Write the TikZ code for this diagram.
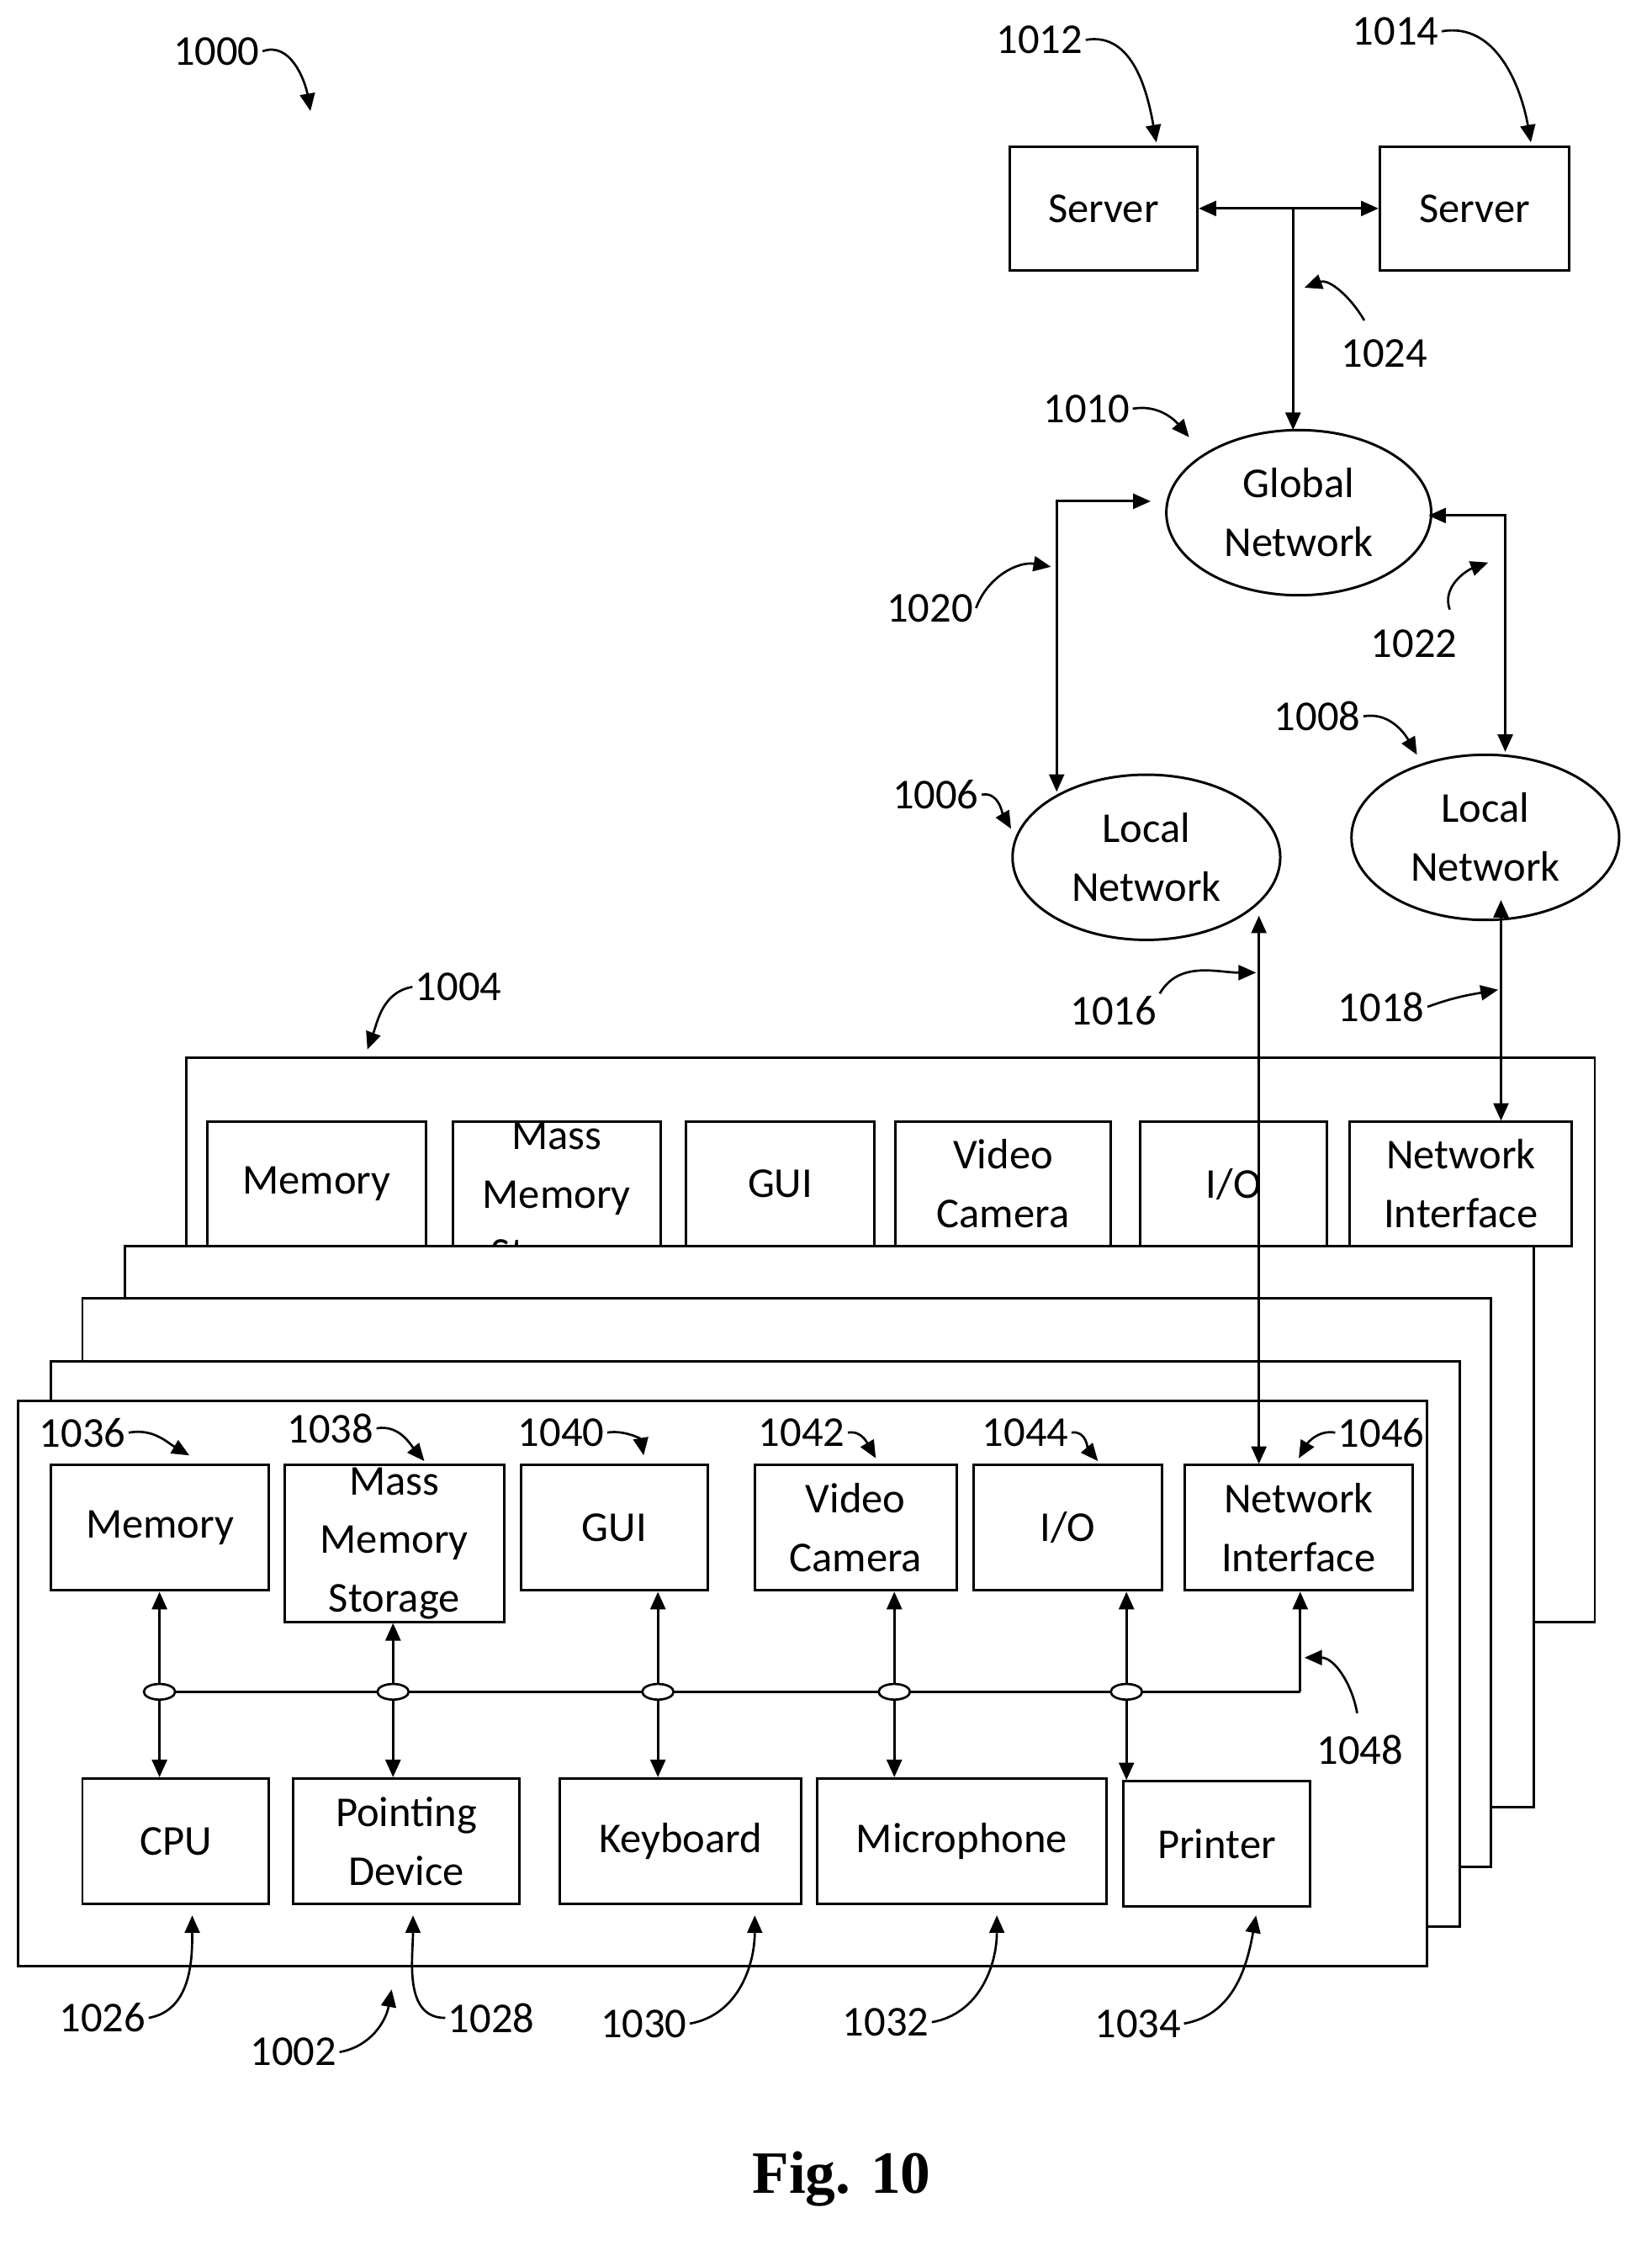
\documentclass[tikz,border=0pt]{standalone}
\usepackage{fontspec}
\setmainfont{Carlito}
\newfontfamily\figfont{Liberation Serif}
\usetikzlibrary{arrows.meta,shapes.geometric}
\begin{document}
\begin{tikzpicture}[x=0.02cm,y=-0.02cm,
  every node/.style={font=\fontsize{17}{23.5}\selectfont},
  bx/.style={draw,line width=1pt,fill=white,align=center,inner sep=0pt},
  el/.style={draw,line width=1pt,ellipse,align=center,fill=white},
  con/.style={line width=1pt,{Triangle[length=7pt,width=6pt]}-{Triangle[length=7pt,width=6pt]}},
  lbl/.style={line width=0.9pt,-{Triangle[length=7pt,width=6pt]}},
  num/.style={font=\fontsize{17}{20}\selectfont,inner sep=1pt}]
\useasboundingbox (0,0) rectangle (1160,1580);
\def\B#1#2#3#4#5#6{\node[bx,minimum width={(#4-#2)*0.02cm},minimum height={(#5-#3)*0.02cm},anchor=north west] (#1) at (#2,#3) {#6};}
% servers
\B{s1}{708}{102}{840}{189}{Server}
\B{s2}{968}{102}{1101}{189}{Server}
\node[el,minimum width=186*0.02cm,minimum height=116*0.02cm] (gn) at (912,360) {Global\\Network};
\node[el,minimum width=188*0.02cm,minimum height=116*0.02cm] (ln1) at (805,602) {Local\\Network};
\node[el,minimum width=188*0.02cm,minimum height=116*0.02cm] (ln2) at (1043,588) {Local\\Network};
\draw[con] (s1.east) -- (s2.west);
\coordinate (j) at (908,146);
\draw[lbl,line width=1pt] (j) -- (908,302);
\draw[con] (808,352) -- (742,352) -- (742,556);
\draw[con] (1003,362) -- (1057,362) -- (1057,528);
% stacked boxes
\B{p1}{130}{742}{1119}{1138}{}
\B{bm}{145}{787}{298}{874}{Memory}
\B{bmm}{317}{787}{463}{874}{Mass\\Memory\\Storage}
\B{bg}{481}{787}{613}{874}{GUI}
\B{bv}{628}{787}{779}{874}{Video\\Camera}
\B{bi}{800}{787}{931}{874}{I/O}
\B{bn}{947}{787}{1103}{874}{Network\\Interface}
\B{p2}{87}{874}{1076}{1268}{}
\B{p3}{57}{911}{1046}{1310}{}
\B{p4}{35}{955}{1024}{1352}{}
\B{p5}{12}{983}{1001}{1380}{}
% front row
\B{fm}{35}{1028}{188}{1116}{Memory}
\B{fmm}{199}{1028}{353}{1138}{Mass\\Memory\\Storage}
\B{fg}{365}{1028}{496}{1116}{GUI}
\B{fv}{529}{1028}{671}{1116}{Video\\Camera}
\B{fi}{683}{1028}{815}{1116}{I/O}
\B{fn}{831}{1028}{991}{1116}{Network\\Interface}
\B{cpu}{57}{1248}{188}{1336}{CPU}
\B{pd}{205}{1248}{364}{1336}{Pointing\\Device}
\B{kb}{392}{1248}{562}{1336}{Keyboard}
\B{mic}{573}{1248}{776}{1336}{Microphone}
\B{pr}{788}{1250}{919}{1338}{Printer}
% network links
\draw[con] (884,643) -- (884,1028);
\draw[con] (1054,632) -- (bn.north -| 1054,0);
% bus
\draw[line width=1pt] (112,1188) -- (913,1188);
\draw[lbl,line width=1pt] (913,1188) -- (fn.south -| 913,0);
\foreach \x/\t/\b in {112/fm/cpu,276/fmm/pd,462/fg/kb,628/fv/mic,791/fi/pr}{
  \draw[con] (\t.south -| \x,0) -- (\b.north -| \x,0);
  \node[draw,line width=0.9pt,ellipse,fill=white,minimum width=22*0.02cm,minimum height=11*0.02cm,inner sep=0pt] at (\x,1188) {};}
% labels
\node[num] (l1000) at (152,36) {1000}; \draw[lbl] (l1000.east) to[out=20,in=100] (218,78);
\node[num] (l1012) at (730,28) {1012}; \draw[lbl] (l1012.east) to[out=10,in=100] (812,100);
\node[num] (l1014) at (980,22) {1014}; \draw[lbl] (l1014.east) to[out=10,in=100] (1075,100);
\node[num] (l1024) at (972,248) {1024}; \draw[lbl] (958,225) to[out=120,in=20] (916,202);
\node[num] (l1010) at (763,287) {1010}; \draw[lbl] (l1010.east) to[out=10,in=130] (835,307);
\node[num] (l1020) at (653,427) {1020}; \draw[lbl] (l1020.east) to[out=70,in=170] (738,398);
\node[num] (l1022) at (993,452) {1022}; \draw[lbl] (1018,428) to[out=110,in=200] (1045,395);
\node[num] (l1008) at (925,503) {1008}; \draw[lbl] (l1008.east) to[out=10,in=120] (995,530);
\node[num] (l1006) at (657,558) {1006}; \draw[lbl] (l1006.east) to[out=10,in=120] (710,582);
\node[num] (l1016) at (782,710) {1016}; \draw[lbl] (l1016.north east) to[out=60,in=180] (882,683);
\node[num] (l1018) at (970,707) {1018}; \draw[lbl] (l1018.east) to[out=20,in=190] (1052,695);
\node[num] (l1004) at (322,693) {1004}; \draw[lbl] (l1004.west) to[out=190,in=70] (258,737);
\node[num] (l1036) at (58,1006) {1036}; \draw[lbl] (l1036.east) to[out=10,in=150] (133,1022);
\node[num] (l1038) at (232,1003) {1038}; \draw[lbl] (l1038.east) to[out=10,in=130] (298,1026);
\node[num] (l1040) at (394,1006) {1040}; \draw[lbl] (l1040.east) to[out=10,in=100] (452,1022);
\node[num] (l1042) at (563,1006) {1042}; \draw[lbl] (l1042.east) to[out=10,in=120] (615,1024);
\node[num] (l1044) at (720,1006) {1044}; \draw[lbl] (l1044.east) to[out=10,in=130] (771,1026);
\node[num] (l1046) at (970,1006) {1046}; \draw[lbl] (l1046.west) to[out=170,in=60] (912,1024);
\node[num] (l1048) at (955,1229) {1048}; \draw[lbl] (953,1203) to[out=100,in=0] (916,1164);
\node[num] (l1026) at (72,1417) {1026}; \draw[lbl] (l1026.east) to[out=10,in=270] (135,1345);
\node[num] (l1028) at (345,1417) {1028}; \draw[lbl] (l1028.west) to[out=180,in=270] (290,1345);
\node[num] (l1002) at (206,1441) {1002}; \draw[lbl] (l1002.east) to[out=10,in=260] (275,1397);
\node[num] (l1030) at (452,1421) {1030}; \draw[lbl] (l1030.east) to[out=10,in=270] (530,1345);
\node[num] (l1032) at (622,1420) {1032}; \draw[lbl] (l1032.east) to[out=10,in=270] (700,1345);
\node[num] (l1034) at (799,1421) {1034}; \draw[lbl] (l1034.east) to[out=10,in=260] (882,1345);
\node[font=\figfont\bfseries\fontsize{24}{28}\selectfont] (fig) at (591,1530) {Fig. 10};
\end{tikzpicture}
\end{document}
